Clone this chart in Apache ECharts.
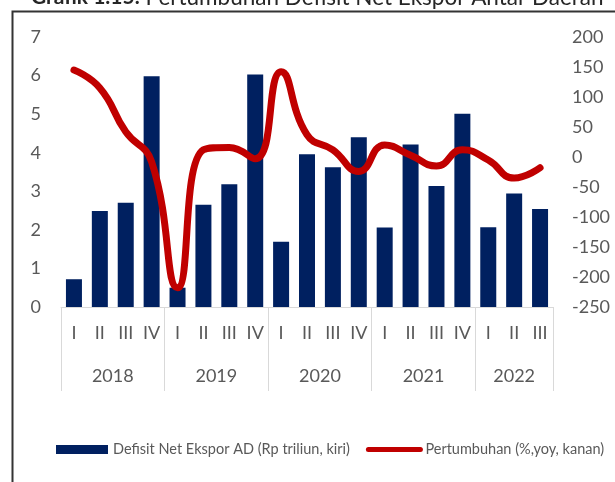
<!DOCTYPE html>
<html>
<head>
<meta charset="utf-8">
<script src="https://cdn.jsdelivr.net/npm/echarts@6/dist/echarts.min.js"></script>
<style>
  html, body { margin: 0; padding: 0; background: #fff; }
  #chart { width: 615px; height: 482px; }
</style>
</head>
<body>
<div id="chart"></div>
<script>
// quarters per year, 2018 I .. 2022 III
const years = ['2018', '2019', '2020', '2021', '2022']
const quartersPerYear = [4, 4, 4, 4, 3]
const quarterNames = ['I', 'II', 'III', 'IV']

// Defisit Net Ekspor AD (Rp triliun)
const defisit = [0.72, 2.49, 2.70, 5.98, 0.5, 2.65, 3.18, 6.03, 1.69, 3.96, 3.62, 4.40, 2.06, 4.21, 3.14, 5.01, 2.07, 2.94, 2.54]
// Pertumbuhan (%, yoy)
const pertumbuhan = [145, 115, 42, -8, -218, 12, 16, -3, 142, 37, 12, -24, 20, 3, -15, 12, -5, -35, -18]

const barName = 'Defisit Net Ekspor AD (Rp triliun, kiri)'
const lineName = 'Pertumbuhan (%,yoy, kanan)'

// quarter categories
const quarters = []
quartersPerYear.forEach((n, yi) => {
  for (let q = 0; q < n; q++) quarters.push(years[yi] + ' ' + quarterNames[q])
})

// year band: half-quarter points, label in the middle of each year, separators at boundaries
const yearSlots = []
const yearBounds = [0]
let pos = 0
quartersPerYear.forEach((n, yi) => {
  for (let k = 0; k < n * 2; k++) yearSlots.push(k === n ? years[yi] : '')
  pos += n * 2
  yearBounds.push(pos)
})
yearSlots.push('')

const grey = '#595959'
const lineGrey = '#d9d9d9'
const font = 'Lato'

const chart = echarts.init(document.getElementById('chart'))
chart.setOption({
  animation: false,
  textStyle: { fontFamily: font },
  grid: [
    { left: 61, right: 62, top: 37, bottom: 175, outerBoundsMode: 'none' },
    { left: 61, right: 62, top: 307, height: 84, outerBoundsMode: 'none' }
  ],
  legend: {
    left: 51,
    top: 437,
    width: 564,
    itemWidth: 52,
    itemHeight: 9,
    itemGap: 16,
    textStyle: { color: grey, fontSize: 14.5, fontFamily: font },
    data: [
      { name: barName, icon: 'rect' },
      { name: lineName, lineStyle: { width: 5, cap: 'round' }, itemStyle: { opacity: 0 } }
    ]
  },
  xAxis: [
    {
      type: 'category',
      gridIndex: 0,
      position: 'bottom',
      data: quarters,
      boundaryGap: true,
      axisLine: { lineStyle: { color: lineGrey, width: 1 } },
      axisTick: { show: false },
      axisLabel: {
        interval: 0,
        margin: 17,
        color: grey,
        fontSize: 18,
        formatter: (v) => v.split(' ')[1]
      }
    },
    {
      type: 'category',
      gridIndex: 1,
      position: 'top',
      data: yearSlots,
      boundaryGap: false,
      axisLine: { show: false },
      axisTick: { show: false },
      splitLine: {
        show: true,
        interval: (i) => yearBounds.indexOf(i) >= 0,
        lineStyle: { color: lineGrey, width: 1 }
      },
      axisLabel: { inside: true, interval: 0, margin: 60, color: grey, fontSize: 18 }
    }
  ],
  yAxis: [
    {
      type: 'value',
      gridIndex: 0,
      min: 0,
      max: 7,
      interval: 1,
      axisLine: { show: false },
      axisTick: { show: false },
      splitLine: { show: false },
      axisLabel: { margin: 20, color: grey, fontSize: 18 }
    },
    {
      type: 'value',
      gridIndex: 0,
      min: -250,
      max: 200,
      interval: 50,
      axisLine: { show: false },
      axisTick: { show: false },
      splitLine: { show: false },
      axisLabel: { margin: 19, color: grey, fontSize: 18, align: 'left' }
    },
    {
      type: 'value',
      gridIndex: 1,
      show: false
    }
  ],
  series: [
    {
      name: barName,
      type: 'bar',
      xAxisIndex: 0,
      yAxisIndex: 0,
      data: defisit,
      barWidth: 16,
      itemStyle: { color: '#002060' }
    },
    {
      name: lineName,
      type: 'line',
      xAxisIndex: 0,
      yAxisIndex: 1,
      data: pertumbuhan,
      smooth: 0.5,
      symbol: 'none',
      z: 5,
      lineStyle: { color: '#c00000', width: 7, cap: 'round', join: 'round' },
      itemStyle: { color: '#c00000' }
    }
  ],
  graphic: [
    {
      type: 'polyline',
      shape: { points: [[12.5, 482], [12.5, 11.5], [615, 11.5]] },
      style: { stroke: '#333', lineWidth: 2, fill: null }
    },
    {
      type: 'text',
      x: 31,
      y: 9,
      style: {
        text: '{b|Grafik 1.15.} Pertumbuhan Defisit Net Ekspor Antar Daerah',
        rich: { b: { fontWeight: 'bold', fontSize: 21, fontFamily: font, fill: '#262626' } },
        fontSize: 22.5,
        fontFamily: font,
        fill: '#262626',
        verticalAlign: 'bottom'
      }
    }
  ]
})
</script>
</body>
</html>
